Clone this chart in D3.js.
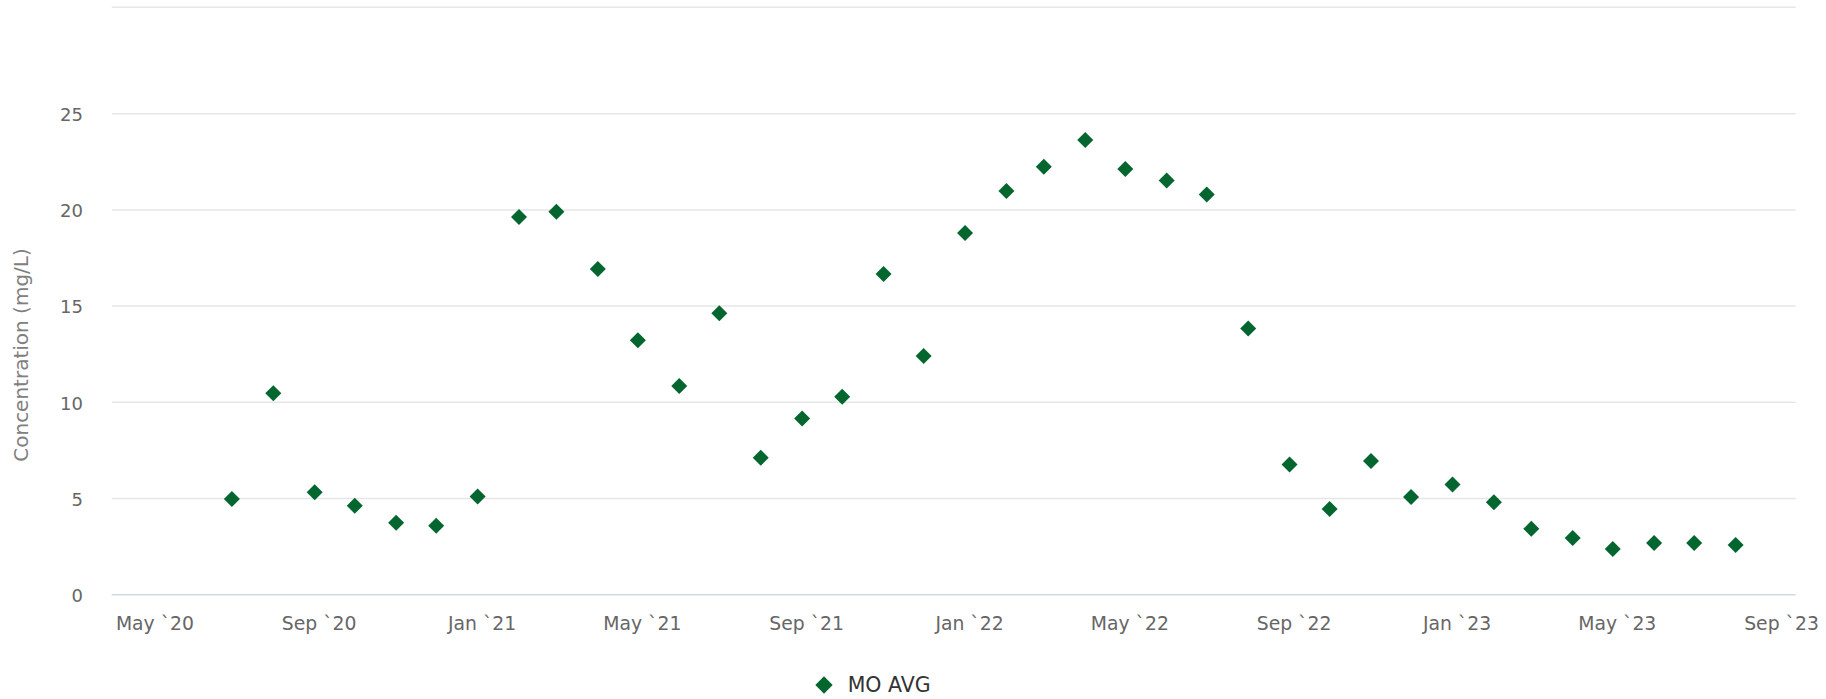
<!DOCTYPE html>
<html><head><meta charset="utf-8">
<script src="https://cdn.jsdelivr.net/npm/d3@7"></script>
<style>
body{margin:0;background:#fff}
svg{display:block}
text{font-family:"DejaVu Sans",sans-serif}
</style>
</head><body>
<svg id="c" width="1826" height="699"></svg>
<script>
// ---- data ----
const months = ["2020-07","2020-08","2020-09","2020-10","2020-11","2020-12",
  "2021-01","2021-02","2021-03","2021-04","2021-05","2021-06",
  "2021-07","2021-08","2021-09","2021-10","2021-11","2021-12",
  "2022-01","2022-02","2022-03","2022-04","2022-05","2022-06",
  "2022-07","2022-08","2022-09","2022-10","2022-11","2022-12",
  "2023-01","2023-02","2023-03","2023-04","2023-05","2023-06",
  "2023-07","2023-08"];
const values = [4.95,10.45,5.3,4.6,3.72,3.56,
  5.08,19.6,19.88,16.9,13.2,10.82,
  14.6,7.1,9.14,10.27,16.64,12.38,
  18.77,20.95,22.22,23.61,22.1,21.5,
  20.77,13.81,6.74,4.43,6.92,5.06,
  5.7,4.78,3.4,2.92,2.36,2.66,
  2.66,2.56];
const yTicks = [0,5,10,15,20,25];
const yMax = 30.5;
const xTickMonths = ["2020-05","2020-09","2021-01","2021-05","2021-09","2022-01",
  "2022-05","2022-09","2023-01","2023-05","2023-09"];
const xTickLabels = ["May `20","Sep `20","Jan `21","May `21","Sep `21","Jan `22",
  "May `22","Sep `22","Jan `23","May `23","Sep `23"];
const xStart = "2020-04-02", xEnd = "2023-09-15";
const seriesName = "MO AVG";
const yTitle = "Concentration (mg/L)";

// ---- layout ----
const pL = 111.7, pR = 1795.7, pT = 7.3, pB = 594.3;
const green = "#03662f";
const parseM = s => { const [yy, mm] = s.split("-").map(Number); return new Date(Date.UTC(yy, mm - 1, 1)); };
const parseD = s => { const [yy, mm, dd] = s.split("-").map(Number); return new Date(Date.UTC(yy, mm - 1, dd)); };

const svg = d3.select("#c");
const x = d3.scaleUtc().domain([parseD(xStart), parseD(xEnd)]).range([pL, pR]);
const y = d3.scaleLinear().domain([0, yMax]).range([pB, pT]);

// top border line
svg.append("line").attr("x1", pL).attr("x2", pR)
  .attr("y1", y(yMax)).attr("y2", y(yMax))
  .attr("stroke", "#e6e6e6").attr("stroke-width", 1.5);

// y axis with grid
const gy = svg.append("g").attr("transform", `translate(${pL},0)`)
  .call(d3.axisLeft(y).tickValues(yTicks).tickSize(-(pR - pL)).tickPadding(28.7));
gy.select(".domain").remove();
gy.selectAll(".tick line").attr("stroke", d => d === 0 ? "#d3d9e3" : "#e6e6e6").attr("stroke-width", 1.5);
gy.selectAll(".tick text").attr("font-size", 18).attr("fill", "#666")
  .attr("font-family", "DejaVu Sans").attr("dy", "0.4em");

// x axis
const xTickDates = xTickMonths.map(parseM);
const gx = svg.append("g").attr("transform", `translate(0,${pB})`)
  .call(d3.axisBottom(x).tickValues(xTickDates).tickSize(0)
    .tickFormat((d, i) => xTickLabels[i]));
gx.select(".domain").remove();
gx.selectAll(".tick text").attr("font-size", 18.8).attr("fill", "#666")
  .attr("font-family", "DejaVu Sans").attr("y", 35.7).attr("dy", 0).attr("dx", 4);

// y title
svg.append("text").attr("transform", "translate(21,355) rotate(-90)")
  .attr("text-anchor", "middle").attr("dominant-baseline", "central")
  .attr("font-size", 20).attr("fill", "#808080").text(yTitle);

// points
const diamond = d3.symbol().type(d3.symbolSquare).size(128);
svg.append("g").selectAll("path").data(months.map((m, i) => ({ d: parseM(m), v: values[i] })))
  .join("path")
  .attr("d", diamond)
  .attr("transform", p => `translate(${x(p.d)},${y(p.v)}) rotate(45)`)
  .attr("fill", green);

// legend
const lg = svg.append("g").attr("transform", "translate(824,685)");
lg.append("path").attr("d", d3.symbol().type(d3.symbolSquare).size(150)).attr("transform", "rotate(45)").attr("fill", green);
lg.append("text").attr("x", 23.7).attr("y", 7.3).attr("font-size", 20.5)
  .attr("fill", "#333").text(seriesName);
</script>
</body></html>
